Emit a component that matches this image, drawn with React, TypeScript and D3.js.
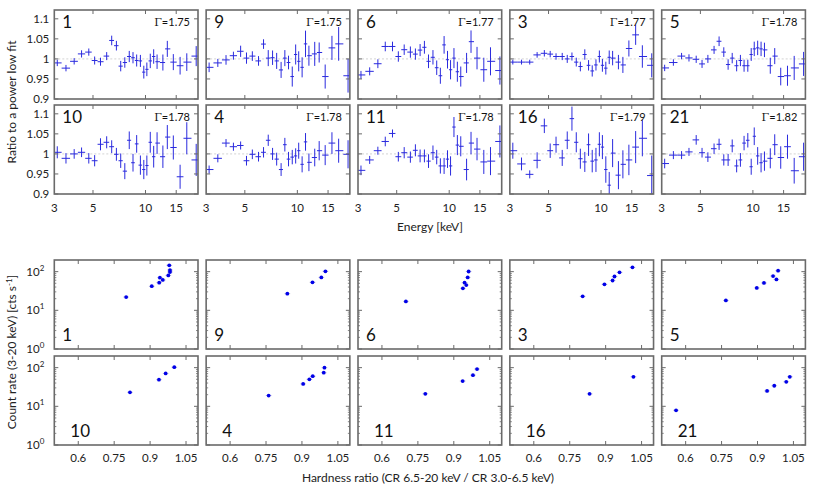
import React from 'react';
import * as d3 from 'd3';

const W = 817;
const H = 488;
const FONT = 'Lato, "DejaVu Sans", sans-serif';

// energy bin centres [keV], shared by all spectral panels
const ENERGY = [3.12, 3.5, 3.9, 4.3, 4.73, 5.11, 5.52, 5.99, 6.4, 6.81, 7.21, 7.61, 8.07, 8.48, 8.9, 9.35, 9.78, 10.18, 10.65, 11.14, 11.65, 12.58, 13.34, 14.44, 15.79, 17.25, 19.53];

const TOP_IDS = ['1', '9', '6', '3', '5'];
const BOTTOM_IDS = ['10', '4', '11', '16', '21'];
const GAMMA = ['1.75', '1.75', '1.77', '1.77', '1.78', '1.78', '1.78', '1.78', '1.79', '1.82'];

// ratio to power law fit, per observation
const ratio1 = [0.99, 0.977, 0.994, 1.0125, 1.017, 0.996, 0.993, 1.007, 1.046, 1.033, 0.982, 0.991, 1.006, 1.003, 0.996, 0.995, 0.967, 0.974, 0.995, 1.006, 0.993, 0.991, 1.025, 0.992, 0.983, 0.992, 1.007];
const ratio9 = [0.979, 0.99, 0.9975, 1.008, 1.019, 1.002, 1.007, 0.995, 1.037, 1.002, 1.003, 0.995, 0.9725, 1.002, 0.991, 0.956, 1.011, 0.994, 0.979, 1.0375, 1.008, 1.0125, 1.016, 0.956, 1.0275, 1.0375, 0.958];
const ratio6 = [0.96, 0.969, 0.988, 1.031, 1.031, 1.006, 1.023, 1.017, 1.012, 1.022, 1.029, 0.994, 1.004, 0.978, 0.958, 1.035, 0.998, 0.973, 1.002, 0.968, 0.956, 0.99, 1.043, 1.002, 0.973, 0.994, 0.971];
const ratio3 = [0.992, 0.992, 0.992, 1.01, 1.014, 1.012, 1.006, 1.006, 1.0, 1.006, 0.992, 0.981, 1.011, 0.984, 0.97, 0.985, 1.006, 0.984, 0.977, 1.004, 1.002, 0.992, 0.985, 1.026, 1.06, 1.006, 0.984];
const ratio5 = [0.9775, 0.991, 1.007, 1.0025, 0.999, 0.9875, 1.0, 1.0225, 1.044, 1.017, 0.986, 1.002, 0.983, 0.996, 0.983, 0.983, 1.011, 1.025, 1.0275, 1.025, 1.0225, 0.983, 1.007, 0.956, 0.958, 0.9775, 0.9875];
const ratio10 = [1.004, 0.989, 1.0, 1.004, 0.989, 0.983, 1.024, 1.029, 1.018, 0.999, 0.983, 0.957, 1.034, 0.978, 1.025, 0.972, 0.961, 0.971, 1.029, 0.993, 1.027, 0.993, 1.042, 1.016, 0.943, 1.039, 0.985];
const ratio4 = [0.961, 0.989, 1.027, 1.018, 1.021, 0.983, 0.999, 0.993, 1.004, 1.034, 1.0, 0.987, 0.961, 1.023, 0.987, 0.992, 0.995, 1.008, 0.974, 1.03, 0.979, 0.991, 1.008, 0.997, 1.027, 1.008, 0.999];
const ratio11 = [0.959, 0.985, 1.008, 1.031, 1.051, 0.993, 1.003, 0.992, 1.009, 0.995, 0.995, 0.982, 1.003, 0.992, 0.97, 0.97, 0.987, 0.97, 1.067, 1.022, 1.019, 0.961, 1.027, 1.012, 0.98, 0.982, 1.031];
const ratio16 = [1.008, 0.975, 0.949, 0.984, 1.07, 1.008, 1.023, 0.99, 1.034, 1.088, 1.029, 0.988, 0.98, 1.023, 0.982, 0.985, 1.024, 1.017, 0.961, 0.922, 1.002, 0.947, 0.974, 0.985, 1.017, 1.039, 0.946];
const ratio21 = [0.976, 0.997, 0.997, 1.005, 1.035, 1.003, 0.992, 1.013, 1.024, 0.985, 0.985, 1.02, 0.97, 0.985, 1.027, 1.034, 0.968, 1.044, 0.995, 0.978, 0.982, 0.989, 1.023, 0.991, 1.018, 0.958, 0.993];

// 1-sigma errors on the ratio
const err1 = [0.008, 0.008, 0.008, 0.009, 0.009, 0.01, 0.01, 0.01, 0.012, 0.012, 0.013, 0.013, 0.014, 0.014, 0.015, 0.015, 0.016, 0.017, 0.018, 0.018, 0.018, 0.02, 0.02, 0.02, 0.022, 0.022, 0.025];
const err9 = [0.012, 0.01, 0.012, 0.01, 0.014, 0.014, 0.012, 0.012, 0.012, 0.02, 0.018, 0.02, 0.02, 0.02, 0.017, 0.025, 0.025, 0.025, 0.025, 0.033, 0.025, 0.03, 0.025, 0.03, 0.03, 0.042, 0.042];
const err6 = [0.01, 0.01, 0.011, 0.012, 0.012, 0.013, 0.013, 0.014, 0.014, 0.015, 0.016, 0.017, 0.018, 0.018, 0.02, 0.022, 0.022, 0.024, 0.025, 0.025, 0.025, 0.025, 0.028, 0.028, 0.03, 0.035, 0.035];
const err3 = [0.006, 0.006, 0.006, 0.007, 0.008, 0.008, 0.008, 0.009, 0.01, 0.01, 0.011, 0.012, 0.013, 0.013, 0.014, 0.014, 0.015, 0.016, 0.016, 0.017, 0.018, 0.018, 0.02, 0.02, 0.025, 0.028, 0.03];
const err5 = [0.008, 0.008, 0.008, 0.009, 0.009, 0.01, 0.01, 0.01, 0.012, 0.012, 0.013, 0.013, 0.014, 0.014, 0.015, 0.015, 0.016, 0.018, 0.018, 0.018, 0.018, 0.02, 0.02, 0.022, 0.025, 0.03, 0.03];
const err10 = [0.015, 0.013, 0.012, 0.012, 0.013, 0.014, 0.015, 0.015, 0.016, 0.016, 0.018, 0.02, 0.022, 0.022, 0.022, 0.024, 0.024, 0.025, 0.026, 0.027, 0.027, 0.028, 0.03, 0.03, 0.03, 0.04, 0.04];
const err4 = [0.01, 0.01, 0.01, 0.01, 0.01, 0.012, 0.012, 0.012, 0.013, 0.014, 0.015, 0.016, 0.016, 0.017, 0.018, 0.018, 0.019, 0.02, 0.02, 0.022, 0.022, 0.022, 0.024, 0.025, 0.027, 0.03, 0.035];
const err11 = [0.012, 0.01, 0.01, 0.012, 0.01, 0.012, 0.014, 0.014, 0.015, 0.016, 0.016, 0.017, 0.018, 0.018, 0.019, 0.02, 0.022, 0.024, 0.025, 0.025, 0.025, 0.027, 0.028, 0.028, 0.03, 0.035, 0.04];
const err16 = [0.02, 0.016, 0.01, 0.02, 0.018, 0.018, 0.02, 0.02, 0.022, 0.03, 0.025, 0.025, 0.025, 0.028, 0.028, 0.03, 0.03, 0.03, 0.033, 0.033, 0.035, 0.035, 0.035, 0.038, 0.04, 0.045, 0.05];
const err21 = [0.012, 0.01, 0.01, 0.01, 0.012, 0.012, 0.012, 0.013, 0.014, 0.014, 0.015, 0.016, 0.016, 0.017, 0.018, 0.018, 0.02, 0.022, 0.022, 0.024, 0.024, 0.025, 0.026, 0.028, 0.03, 0.032, 0.035];

// hardness ratio and count rate per snapshot
const hr1 = [0.8, 0.907, 0.938, 0.941, 0.953, 0.976, 0.983, 0.983, 0.98];
const cr1 = [22, 42, 52, 70, 61, 80, 98, 110, 146];
const hr9 = [0.839, 0.944, 0.981, 0.998];
const cr9 = [27, 53, 71, 102];
const hr6 = [0.7, 0.938, 0.945, 0.952, 0.958, 0.962];
const cr6 = [17, 37, 52, 45, 71, 101];
const hr3 = [0.804, 0.895, 0.929, 0.937, 0.958, 1.012];
const cr3 = [23, 47, 59, 75, 96, 129];
const hr5 = [0.768, 0.897, 0.927, 0.965, 0.979, 0.986];
const cr5 = [18, 38, 51, 77, 63, 106];
const hr10 = [0.816, 0.937, 0.965, 1.001];
const cr10 = [23, 49, 71, 103];
const hr4 = [0.761, 0.905, 0.931, 0.945, 0.991, 0.994];
const cr4 = [19, 38, 50, 60, 74, 100];
const hr11 = [0.781, 0.937, 0.98, 0.997];
const cr11 = [21, 45, 64, 92];
const hr16 = [0.833, 1.016];
const cr16 = [21, 58];
const hr21 = [0.56, 0.94, 0.97, 1.02, 1.035];
const cr21 = [7.9, 25, 34, 43, 58];

const RATIOS: Record<string, number[]> = { '1': ratio1, '9': ratio9, '6': ratio6, '3': ratio3, '5': ratio5, '10': ratio10, '4': ratio4, '11': ratio11, '16': ratio16, '21': ratio21 };
const ERRS: Record<string, number[]> = { '1': err1, '9': err9, '6': err6, '3': err3, '5': err5, '10': err10, '4': err4, '11': err11, '16': err16, '21': err21 };
const HR: Record<string, number[]> = { '1': hr1, '9': hr9, '6': hr6, '3': hr3, '5': hr5, '10': hr10, '4': hr4, '11': hr11, '16': hr16, '21': hr21 };
const CR: Record<string, number[]> = { '1': cr1, '9': cr9, '6': cr6, '3': cr3, '5': cr5, '10': cr10, '4': cr4, '11': cr11, '16': cr16, '21': cr21 };

const E_TICKS = [3, 5, 10, 15];
const R_TICKS = [0.9, 0.95, 1, 1.05, 1.1];
const HR_TICKS = [0.6, 0.75, 0.9, 1.05];
const CR_TICKS = [1, 10, 100];

// layout
const PW = 143.7;
const PH = 89;
const colX = (i: number) => 54.3 + i * 151.85;
const SPEC_Y = [10, 105];
const SCAT_Y = [260, 356];

const BLUE = '#2a2ade';
const FRAME = '#6a6a6a';

// bin edges from geometric midpoints
const edges = ENERGY.map((e, i) => {
  const lo = i === 0 ? 3.0 : Math.sqrt(ENERGY[i - 1] * e);
  const hi = i === ENERGY.length - 1 ? 20 : Math.sqrt(ENERGY[i + 1] * e);
  return [lo, hi];
});

function SpecPanel({ id, gamma, x0, y0, showX, showY }: { id: string; gamma: string; x0: number; y0: number; showX: boolean; showY: boolean }) {
  const x = d3.scaleLog().domain([3, 20]).range([x0, x0 + PW]);
  const y = d3.scaleLinear().domain([0.9, 1.122]).range([y0 + PH, y0]);
  const r = RATIOS[id];
  const e = ERRS[id];
  const clipId = `clip-s${id}`;
  return (
    <g>
      <clipPath id={clipId}>
        <rect x={x0} y={y0} width={PW} height={PH} />
      </clipPath>
      <line x1={x0} x2={x0 + PW} y1={y(1)} y2={y(1)} stroke="#c8c8c8" strokeWidth={0.8} strokeDasharray="2,2" />
      <g clipPath={`url(#${clipId})`}>
        {ENERGY.map((en, i) => (
          <g key={i} stroke={BLUE} strokeWidth={1}>
            <line x1={x(edges[i][0])} x2={x(edges[i][1])} y1={y(r[i])} y2={y(r[i])} />
            <line x1={x(en)} x2={x(en)} y1={y(r[i] - e[i])} y2={y(r[i] + e[i])} />
          </g>
        ))}
      </g>
      {E_TICKS.filter((t) => t > 3).map((t) => (
        <g key={t} stroke={FRAME} strokeWidth={1}>
          <line x1={x(t)} x2={x(t)} y1={y0 + PH} y2={y0 + PH - 4} />
          <line x1={x(t)} x2={x(t)} y1={y0} y2={y0 + 4} />
        </g>
      ))}
      {R_TICKS.map((t) => (
        <g key={t} stroke={FRAME} strokeWidth={1}>
          <line x1={x0} x2={x0 + 4} y1={y(t)} y2={y(t)} />
          <line x1={x0 + PW} x2={x0 + PW - 4} y1={y(t)} y2={y(t)} />
        </g>
      ))}
      <rect x={x0} y={y0} width={PW} height={PH} fill="none" stroke={FRAME} strokeWidth={1.6} />
      <text x={x0 + 8} y={y0 + 18} fontSize={17} fill="#111">{id}</text>
      <text x={x0 + PW - 8} y={y0 + 16} fontSize={11} textAnchor="end" fill="#111">
        <tspan fontFamily="'DejaVu Serif', serif">Γ</tspan>=<tspan>{gamma}</tspan>
      </text>
      {showY && R_TICKS.map((t) => (
        <text key={t} x={x0 - 5} y={y(t) + 4} fontSize={11.5} textAnchor="end" fill="#222">{d3.format('')(t)}</text>
      ))}
      {showX && E_TICKS.map((t) => (
        <text key={t} x={x(t)} y={y0 + PH + 18} fontSize={11.5} textAnchor="middle" fill="#222">{t}</text>
      ))}
    </g>
  );
}

function ScatPanel({ id, x0, y0, row, showX, showY }: { id: string; x0: number; y0: number; row: number; showX: boolean; showY: boolean }) {
  const x = d3.scaleLinear().domain([0.5, 1.1]).range([x0, x0 + PW]);
  const y = d3.scaleLog().domain([1, 200]).range([y0 + PH, y0]);
  const hr = HR[id];
  const cr = CR[id];
  const minors: number[] = [];
  [1, 10, 100].forEach((d) => {
    for (let k = 2; k <= 9; k++) if (d * k < 200) minors.push(d * k);
  });
  return (
    <g>
      {HR_TICKS.map((t) => (
        <g key={t} stroke={FRAME} strokeWidth={1}>
          <line x1={x(t)} x2={x(t)} y1={y0 + PH} y2={y0 + PH - 4} />
          <line x1={x(t)} x2={x(t)} y1={y0} y2={y0 + 4} />
        </g>
      ))}
      {CR_TICKS.map((t) => (
        <g key={t} stroke={FRAME} strokeWidth={1}>
          <line x1={x0} x2={x0 + 4} y1={y(t)} y2={y(t)} />
          <line x1={x0 + PW} x2={x0 + PW - 4} y1={y(t)} y2={y(t)} />
        </g>
      ))}
      {minors.map((t) => (
        <g key={t} stroke={FRAME} strokeWidth={0.8}>
          <line x1={x0} x2={x0 + 2} y1={y(t)} y2={y(t)} />
          <line x1={x0 + PW} x2={x0 + PW - 2} y1={y(t)} y2={y(t)} />
        </g>
      ))}
      {hr.map((h, i) => (
        <g key={i}>
          <line x1={x(h - 0.012)} x2={x(h + 0.012)} y1={y(cr[i])} y2={y(cr[i])} stroke="#c4c4d8" strokeWidth={1} />
          <circle cx={x(h)} cy={y(cr[i])} r={1.9} fill="#0000e8" />
        </g>
      ))}
      <rect x={x0} y={y0} width={PW} height={PH} fill="none" stroke={FRAME} strokeWidth={1.6} />
      <text x={x0 + (row === 0 ? 8 : 16)} y={y0 + PH - 8} fontSize={17} fill="#111">{id}</text>
      {showY && CR_TICKS.map((t, i) => (
        <text key={t} x={x0 - 10} y={y(t) + 4} fontSize={11.5} textAnchor="end" fill="#222">
          10<tspan dy={-5} fontSize={8}>{i}</tspan>
        </text>
      ))}
      {showX && HR_TICKS.map((t) => (
        <text key={t} x={x(t)} y={y0 + PH + 17} fontSize={11.5} textAnchor="middle" fill="#222">{t}</text>
      ))}
    </g>
  );
}

export default function App() {
  return (
    <svg width={W} height={H} style={{ position: 'absolute', left: 0, top: 0, background: '#fff' }} fontFamily={FONT}>
      <rect width={W} height={H} fill="#fff" />
      {[TOP_IDS, BOTTOM_IDS].map((ids, row) =>
        ids.map((id, c) => (
          <SpecPanel key={`s${id}`} id={id} gamma={GAMMA[row * 5 + c]} x0={colX(c)} y0={SPEC_Y[row]} showX={row === 1} showY={c === 0} />
        ))
      )}
      {[TOP_IDS, BOTTOM_IDS].map((ids, row) =>
        ids.map((id, c) => (
          <ScatPanel key={`h${id}`} id={id} x0={colX(c)} y0={SCAT_Y[row]} row={row} showX={row === 1} showY={c === 0} />
        ))
      )}
      <text transform="translate(16,102) rotate(-90)" textAnchor="middle" fontSize={12} fill="#222">Ratio to a power low fit</text>
      <text x={430} y={231} textAnchor="middle" fontSize={12} fill="#222">Energy [keV]</text>
      <text transform="translate(16,352) rotate(-90)" textAnchor="middle" fontSize={12} fill="#222">
        Count rate (3-20 keV) [cts s<tspan dy={-4} fontSize={8}>-1</tspan><tspan dy={4}>]</tspan>
      </text>
      <text x={428} y={482} textAnchor="middle" fontSize={12} fill="#222">Hardness ratio (CR 6.5-20 keV / CR 3.0-6.5 keV)</text>
    </svg>
  );
}
